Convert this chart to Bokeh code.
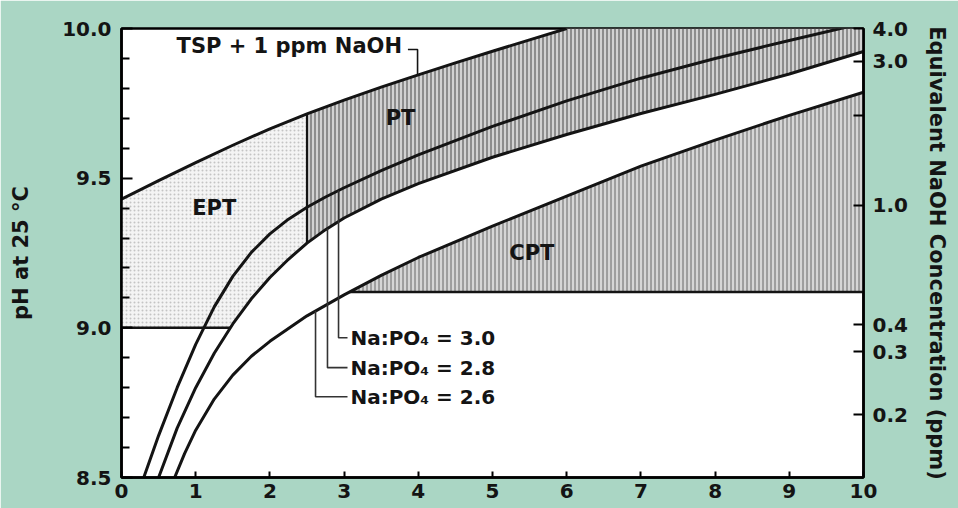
import numpy as np
from bokeh.plotting import figure
from bokeh.models import Range1d, LinearAxis, FixedTicker
from bokeh.core.properties import value
from bokeh.embed import file_html
from bokeh.resources import INLINE

# ---------------- data ----------------
# TSP + 1 ppm NaOH curve (pH vs x)
tsp_x  = [0.0, 0.5, 1.0, 1.5, 2.0, 2.5, 3.0, 3.5, 4.0, 4.5, 5.0, 5.5, 6.0]
tsp_ph = [9.43, 9.492, 9.552, 9.61, 9.665, 9.715, 9.761, 9.804, 9.845, 9.885, 9.924, 9.962, 10.0]

# Na:PO4 = 3.0
c30_x  = [0.30, 0.50, 0.75, 1.00, 1.25, 1.50, 1.75, 2.00, 2.25, 2.50, 2.75, 3.00, 3.50, 4.00,
          5.00, 6.00, 7.00, 8.00, 9.00, 10.0]
c30_ph = [8.50, 8.64, 8.80, 8.945, 9.07, 9.172, 9.252, 9.314, 9.363, 9.403, 9.437, 9.468, 9.525, 9.578,
          9.673, 9.758, 9.834, 9.90, 9.96, 10.018]

# Na:PO4 = 2.8
c28_x  = [0.50, 0.75, 1.00, 1.25, 1.50, 1.75, 2.00, 2.25, 2.50, 2.75, 3.00, 3.50, 4.00,
          5.00, 6.00, 7.00, 8.00, 9.00, 10.0]
c28_ph = [8.50, 8.665, 8.80, 8.915, 9.013, 9.097, 9.168, 9.229, 9.283, 9.328, 9.367, 9.43, 9.482,
          9.57, 9.646, 9.716, 9.78, 9.848, 9.923]

# Na:PO4 = 2.6
c26_x  = [0.70, 0.85, 1.00, 1.25, 1.50, 1.75, 2.00, 2.50, 3.00, 3.50, 4.00, 5.00, 6.00, 7.00, 8.00, 9.00, 10.0]
c26_ph = [8.49, 8.58, 8.658, 8.762, 8.842, 8.905, 8.955, 9.04, 9.11, 9.175, 9.235, 9.34, 9.44, 9.54, 9.627, 9.71, 9.787]

# region limits
ept_floor_ph = 9.0     # lower boundary of EPT
pt_start_x   = 2.5     # left boundary of PT
cpt_floor_ph = 9.12    # lower boundary of CPT
ph_max       = 10.0

# region labels
region_names = ["EPT", "PT", "CPT"]
region_x     = [1.25, 3.76, 5.53]
region_ph    = [9.40, 9.70, 9.25]

# curve labels
tsp_label      = "TSP + 1 ppm NaOH"
tsp_label_x    = 3.78
tsp_label_ph   = 9.943
tsp_leader_x   = [3.86, 3.99]
tsp_leader_ph  = 9.93

ratio_labels   = ["Na:PO\u2084 = 3.0", "Na:PO\u2084 = 2.8", "Na:PO\u2084 = 2.6"]
ratio_leader_x = [2.925, 2.776, 2.615]
ratio_label_ph = [8.967, 8.867, 8.77]
ratio_leader_end_x = 3.046
ratio_label_x  = 3.086

# axes
x_ticks      = [0, 1, 2, 3, 4, 5, 6, 7, 8, 9, 10]
ph_ticks     = [8.5, 9.0, 9.5, 10.0]
ph_minor     = [8.6, 8.7, 8.8, 8.9, 9.1, 9.2, 9.3, 9.4, 9.6, 9.7, 9.8, 9.9]
naoh_labels  = ["4.0", "3.0", "1.0", "0.4", "0.3", "0.2"]
naoh_ph      = [10.0, 9.89, 9.41, 9.01, 8.92, 8.71]
naoh_minor_ph = [9.71]   # unlabeled 2.0 ppm tick

# ---------------- figure ----------------
FONT = "DejaVu Sans"
INK = "#141414"
BG = "#aad6c4"

p = figure(width=958, height=508, x_range=Range1d(0, 10), y_range=Range1d(8.5, 10.0),
           output_backend="svg", toolbar_location=None,
           min_border_left=121, min_border_right=95, min_border_top=28, min_border_bottom=31)
p.border_fill_color = BG
p.background_fill_color = "white"
p.outline_line_color = "black"
p.outline_line_width = 2.5
p.grid.visible = False

def style_axis(ax, size="20px"):
    ax.major_label_text_font = FONT
    ax.major_label_text_font_style = "bold"
    ax.major_label_text_font_size = size
    ax.major_label_text_color = INK
    ax.axis_label_text_font = FONT
    ax.axis_label_text_font_style = "bold"
    ax.axis_label_text_font_size = "21px"
    ax.axis_label_text_color = INK
    ax.axis_line_color = "black"
    ax.axis_line_width = 2.5
    ax.major_tick_line_color = "black"
    ax.major_tick_line_width = 2
    ax.minor_tick_line_color = "black"
    ax.minor_tick_line_width = 2
    ax.major_tick_out = 0
    ax.minor_tick_out = 0

xa = p.xaxis[0]
style_axis(xa)
xa.ticker = FixedTicker(ticks=x_ticks)
xa.major_tick_in = 6
xa.major_label_standoff = 6

ya = p.yaxis[0]
style_axis(ya)
ya.ticker = FixedTicker(ticks=ph_ticks, minor_ticks=ph_minor)
ya.major_label_overrides = {t: f"{t:.1f}" for t in ph_ticks}
ya.major_tick_in = 11
ya.minor_tick_in = 8
ya.major_label_standoff = 10
ya.axis_label = "pH at 25 \u00b0C"
ya.axis_label_standoff = 26

ra = LinearAxis(ticker=FixedTicker(ticks=naoh_ph, minor_ticks=naoh_minor_ph),
                major_label_overrides={v: l for v, l in zip(naoh_ph, naoh_labels)},
                axis_label="Equivalent NaOH Concentration (ppm)")
style_axis(ra)
ra.major_tick_in = 10
ra.minor_tick_in = 10
ra.major_label_standoff = 9
ra.axis_label_standoff = 14
p.add_layout(ra, "right")

# ---------------- regions ----------------
tsp_x_a, tsp_ph_a = np.array(tsp_x), np.array(tsp_ph)
c28_x_a, c28_ph_a = np.array(c28_x), np.array(c28_ph)
c26_x_a, c26_ph_a = np.array(c26_x), np.array(c26_ph)

tsp_at_start = np.interp(pt_start_x, tsp_x_a, tsp_ph_a)
c28_at_start = np.interp(pt_start_x, c28_x_a, c28_ph_a)
c28_cross_floor = np.interp(ept_floor_ph, c28_ph_a, c28_x_a)
c26_cross_floor = np.interp(cpt_floor_ph, c26_ph_a, c26_x_a)

# EPT
m_low = (c28_x_a > c28_cross_floor) & (c28_x_a < pt_start_x)
m_tsp = tsp_x_a < pt_start_x
ept_xs = ([0.0, c28_cross_floor] + list(c28_x_a[m_low]) + [pt_start_x, pt_start_x]
          + list(tsp_x_a[m_tsp][::-1]))
ept_ys = ([ept_floor_ph, ept_floor_ph] + list(c28_ph_a[m_low]) + [c28_at_start, tsp_at_start]
          + list(tsp_ph_a[m_tsp][::-1]))
p.patch(ept_xs, ept_ys, fill_color="#f4f4f4", line_color=None,
        hatch_pattern=".", hatch_color="#c4c4c4", hatch_scale=4, hatch_weight=1)

# PT
m_t = tsp_x_a >= pt_start_x
m_b = c28_x_a >= pt_start_x
pt_xs = list(tsp_x_a[m_t]) + [10.0] + list(c28_x_a[m_b][::-1])
pt_ys = list(np.minimum(tsp_ph_a[m_t], ph_max)) + [ph_max] + list(c28_ph_a[m_b][::-1])
p.patch(pt_xs, pt_ys, fill_color="#d2d2d2", line_color=None,
        hatch_pattern="|", hatch_color="#5e5e5e", hatch_scale=4, hatch_weight=1.2)

# CPT
m_c = c26_x_a > c26_cross_floor
cpt_xs = [c26_cross_floor] + list(c26_x_a[m_c]) + [10.0]
cpt_ys = [cpt_floor_ph] + list(c26_ph_a[m_c]) + [cpt_floor_ph]
p.patch(cpt_xs, cpt_ys, fill_color="#d6d6d6", line_color=None,
        hatch_pattern="|", hatch_color="#707070", hatch_scale=4, hatch_weight=1.1)

# ---------------- lines ----------------
for cx, cy in [(tsp_x, tsp_ph), (c30_x, c30_ph), (c28_x, c28_ph), (c26_x, c26_ph)]:
    p.line(cx, cy, line_color=INK, line_width=3, line_join="round")

p.line([0.0, c28_cross_floor], [ept_floor_ph, ept_floor_ph], line_color=INK, line_width=2.5)
p.line([c26_cross_floor, 10.0], [cpt_floor_ph, cpt_floor_ph], line_color=INK, line_width=2.5)
p.line([pt_start_x, pt_start_x], [c28_at_start, tsp_at_start], line_color=INK, line_width=2.2)

# leaders
tsp_top = np.interp(tsp_leader_x[1], tsp_x_a, tsp_ph_a)
p.line([tsp_leader_x[0], tsp_leader_x[1], tsp_leader_x[1]], [tsp_leader_ph, tsp_leader_ph, tsp_top],
       line_color=INK, line_width=1.6)

curves = [(c30_x, c30_ph), (c28_x, c28_ph), (c26_x, c26_ph)]
for (cx, cy), lx, ly in zip(curves, ratio_leader_x, ratio_label_ph):
    top = np.interp(lx, cx, cy)
    p.line([lx, lx, ratio_leader_end_x], [top, ly, ly], line_color="#333333", line_width=1.6)

# ---------------- texts ----------------
p.text(x=region_x, y=region_ph, text=region_names, text_font=value(FONT), text_font_style="bold",
       text_font_size="21px", text_color=INK, text_align="center", text_baseline="middle")
p.text(x=[tsp_label_x], y=[tsp_label_ph], text=[tsp_label], text_font=value(FONT),
       text_font_style="bold", text_font_size="21px", text_color=INK,
       text_align="right", text_baseline="middle")
p.text(x=[ratio_label_x] * 3, y=ratio_label_ph, text=ratio_labels, text_font=value(FONT),
       text_font_style="bold", text_font_size="20px", text_color=INK,
       text_align="left", text_baseline="middle")

open("out.html", "w").write(file_html(p, INLINE))
